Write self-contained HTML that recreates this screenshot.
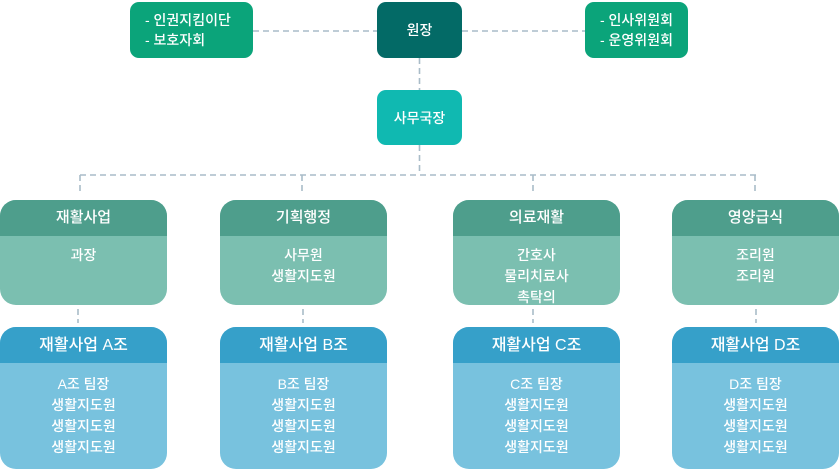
<!DOCTYPE html>
<html><head><meta charset="utf-8"><style>
body{margin:0;width:840px;height:471px;background:#fff;position:relative;overflow:hidden;font-family:"Liberation Sans","Noto Sans CJK KR",sans-serif;color:#fff;font-weight:500}
.b{position:absolute;border-radius:9px;display:flex;align-items:center;justify-content:center;font-size:14px;line-height:20px}
.s{background:#0ba47a;justify-content:flex-start;padding-left:15px;box-sizing:border-box}
.d{position:absolute;border-radius:16px;overflow:hidden;text-align:center;font-size:14px}
.d .h{height:36px;line-height:36px;font-size:15px}
.d .c{padding-top:9px;line-height:21px}
.dept{top:200px;height:105px;background:#7bbfb0}.dept .h{background:#4e9e8c}
.team{top:327px;height:142px;background:#78c2de}.team .h{background:#36a0c9;height:36px;line-height:38px;font-size:16px}
.team .c{padding-top:11px}
svg{position:absolute;left:0;top:0}
</style></head><body>
<svg width="840" height="471"><g stroke="#a9bcc8" stroke-width="1.6" stroke-dasharray="6 4" fill="none">
<path d="M253 31H377M462 31H585M419.5 58V90M419.5 145V175M80 175H756M80 175V195M302 175V195M533 175V195M755 175V195M78 309V323M303 309V323M533 309V323M756 309V323"/></g></svg>

<div class="b s" style="left:130px;top:2px;width:123px;height:56px">- 인권지킴이단<br>- 보호자회</div>
<div class="b" style="left:377px;top:2px;width:85px;height:56px;background:#036a66">원장</div>
<div class="b s" style="left:585px;top:2px;width:103px;height:56px">- 인사위원회<br>- 운영위원회</div>
<div class="b" style="left:377px;top:90px;width:85px;height:55px;background:#10b9b1">사무국장</div>

<div class="d dept" style="left:0;width:167px"><div class="h">재활사업</div><div class="c">과장</div></div>
<div class="d dept" style="left:220px;width:167px"><div class="h">기획행정</div><div class="c">사무원<br>생활지도원</div></div>
<div class="d dept" style="left:453px;width:167px"><div class="h">의료재활</div><div class="c">간호사<br>물리치료사<br>촉탁의</div></div>
<div class="d dept" style="left:672px;width:167px"><div class="h">영양급식</div><div class="c">조리원<br>조리원</div></div>

<div class="d team" style="left:0;width:167px"><div class="h">재활사업 A조</div><div class="c">A조 팀장<br>생활지도원<br>생활지도원<br>생활지도원</div></div>
<div class="d team" style="left:220px;width:167px"><div class="h">재활사업 B조</div><div class="c">B조 팀장<br>생활지도원<br>생활지도원<br>생활지도원</div></div>
<div class="d team" style="left:453px;width:167px"><div class="h">재활사업 C조</div><div class="c">C조 팀장<br>생활지도원<br>생활지도원<br>생활지도원</div></div>
<div class="d team" style="left:672px;width:167px"><div class="h">재활사업 D조</div><div class="c">D조 팀장<br>생활지도원<br>생활지도원<br>생활지도원</div></div>
</body></html>
